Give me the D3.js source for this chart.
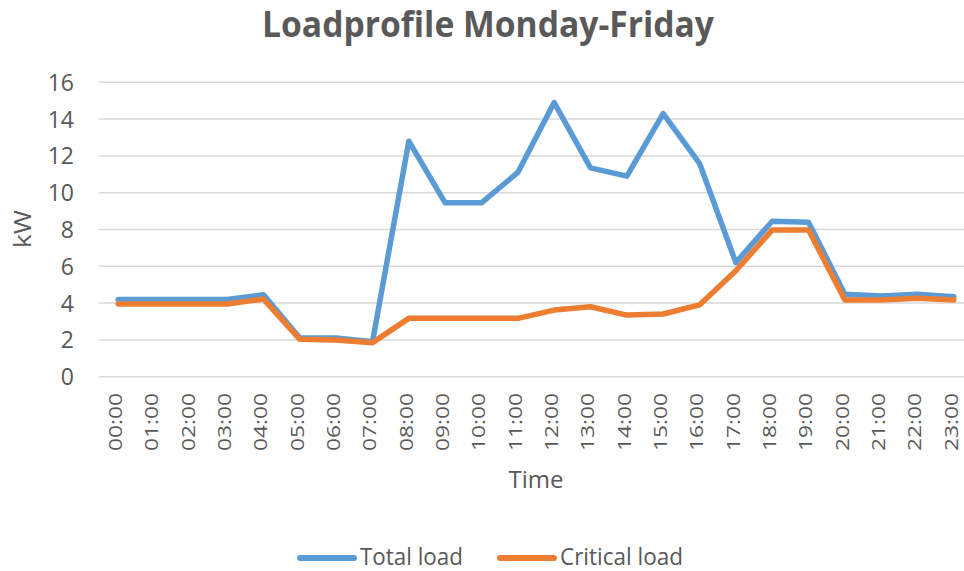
<!DOCTYPE html>
<html>
<head>
<meta charset="utf-8">
<script src="https://cdn.jsdelivr.net/npm/d3@7"></script>
<style>
  html, body { margin: 0; padding: 0; background: #ffffff; }
  svg { display: block; font-family: "Open Sans", sans-serif; }
</style>
</head>
<body>
<svg id="chart" width="964" height="571"></svg>
<script>
// Hourly categories
const hours = ["00:00","01:00","02:00","03:00","04:00","05:00","06:00","07:00",
               "08:00","09:00","10:00","11:00","12:00","13:00","14:00","15:00",
               "16:00","17:00","18:00","19:00","20:00","21:00","22:00","23:00"];

// Load values in kW
const totalLoad    = [4.2, 4.2, 4.2, 4.2, 4.45, 2.1, 2.1, 1.9, 12.8, 9.45, 9.45, 11.1,
                      14.9, 11.35, 10.9, 14.3, 11.6, 6.2, 8.45, 8.4, 4.48, 4.39, 4.48, 4.35];
const criticalLoad = [3.95, 3.95, 3.95, 3.95, 4.22, 2.03, 2.0, 1.85, 3.17, 3.17, 3.17, 3.17,
                      3.62, 3.8, 3.35, 3.41, 3.9, 5.76, 7.97, 7.97, 4.17, 4.17, 4.26, 4.17];

const yTicks = [0, 2, 4, 6, 8, 10, 12, 14, 16];
const seriesNames = ["Total load", "Critical load"];
const seriesColors = ["#5B9BD5", "#ED7D31"];

const textColor = "#595959";
const svg = d3.select("#chart");

const x = d3.scalePoint().domain(hours).range([100, 972]).padding(0.5);
const y = d3.scaleLinear().domain([0, 16]).range([376.7, 82.3]);

// Title
svg.append("text")
  .attr("x", 488).attr("y", 37)
  .attr("text-anchor", "middle")
  .attr("font-size", 36).attr("font-weight", 700)
  .attr("fill", textColor)
  .attr("textLength", 452).attr("lengthAdjust", "spacingAndGlyphs")
  .text("Loadprofile Monday-Friday");

// Horizontal gridlines
svg.append("g")
  .selectAll("line")
  .data(yTicks)
  .join("line")
  .attr("x1", 99).attr("x2", 972)
  .attr("y1", d => y(d)).attr("y2", d => y(d))
  .attr("stroke", "#d9d9d9").attr("stroke-width", 1.5);

// Y axis labels
const yAxis = d3.axisLeft(y).tickValues(yTicks).tickSize(0).tickPadding(0);
svg.append("g")
  .attr("transform", "translate(74,0)")
  .call(yAxis)
  .call(g => g.select(".domain").remove())
  .call(g => g.selectAll("text")
    .attr("font-family", "'Open Sans', sans-serif")
    .attr("font-size", 23)
    .attr("fill", textColor)
    .attr("dy", "0.35em"));

// X axis labels, rotated
const xAxis = d3.axisBottom(x).tickSize(0).tickPadding(0);
svg.append("g")
  .attr("transform", "translate(-3,393)")
  .call(xAxis)
  .call(g => g.select(".domain").remove())
  .call(g => g.selectAll("text")
    .attr("font-family", "'Open Sans', sans-serif")
    .attr("font-size", 18)
    .attr("fill", textColor)
    .attr("text-anchor", "end")
    .attr("transform", "rotate(-90)")
    .attr("x", 0).attr("y", 0)
    .attr("dy", "0.36em")
    .attr("textLength", 58).attr("lengthAdjust", "spacingAndGlyphs"));

// Axis titles
svg.append("text")
  .attr("transform", "translate(31,229) rotate(-90)")
  .attr("text-anchor", "middle")
  .attr("font-size", 24)
  .attr("fill", textColor)
  .attr("textLength", 38).attr("lengthAdjust", "spacingAndGlyphs")
  .text("kW");

svg.append("text")
  .attr("x", 536).attr("y", 488)
  .attr("text-anchor", "middle")
  .attr("font-size", 24)
  .attr("fill", textColor)
  .attr("textLength", 55).attr("lengthAdjust", "spacingAndGlyphs")
  .text("Time");

// Series lines
const line = d3.line()
  .x((d, i) => x(hours[i]))
  .y(d => y(d));

[totalLoad, criticalLoad].forEach((vals, k) => {
  svg.append("path")
    .datum(vals)
    .attr("d", line)
    .attr("fill", "none")
    .attr("stroke", seriesColors[k])
    .attr("stroke-width", 5.5)
    .attr("stroke-linejoin", "round")
    .attr("stroke-linecap", "round");
});

// Legend
const legendItems = [
  { name: seriesNames[0], color: seriesColors[0], x: 297, textW: 103 },
  { name: seriesNames[1], color: seriesColors[1], x: 497, textW: 123 }
];
const lg = svg.append("g");
legendItems.forEach(it => {
  lg.append("line")
    .attr("x1", it.x + 3).attr("x2", it.x + 57)
    .attr("y1", 558).attr("y2", 558)
    .attr("stroke", it.color).attr("stroke-width", 6)
    .attr("stroke-linecap", "round");
  lg.append("text")
    .attr("x", it.x + 63).attr("y", 565)
    .attr("font-size", 24)
    .attr("fill", textColor)
    .attr("textLength", it.textW).attr("lengthAdjust", "spacingAndGlyphs")
    .text(it.name);
});
</script>
</body>
</html>
